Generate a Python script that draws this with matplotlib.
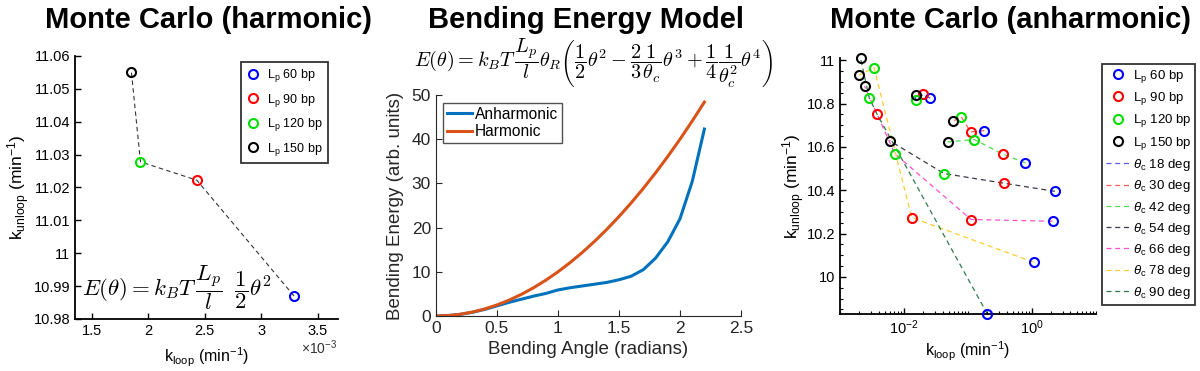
import numpy as np
import matplotlib
matplotlib.use("Agg")
import matplotlib.pyplot as plt
from matplotlib.ticker import FuncFormatter, FixedLocator

plt.rcParams['font.family'] = ['Liberation Sans', 'DejaVu Sans']
plt.rcParams['mathtext.fontset'] = 'custom'
plt.rcParams['mathtext.rm'] = 'Liberation Sans'
plt.rcParams['mathtext.it'] = 'Liberation Sans:italic'
plt.rcParams['xtick.direction'] = 'in'
plt.rcParams['ytick.direction'] = 'in'

# ---- data: harmonic Monte Carlo (order Lp 60, 90, 120, 150) ----
lp_labels = ['60', '90', '120', '150']
lp_colors = ['#0000ff', '#ff0000', '#00e000', '#000000']
harm_kloop = [3.29e-3, 2.43e-3, 1.93e-3, 1.85e-3]
harm_kunloop = [10.987, 11.0222, 11.0278, 11.055]

# ---- data: bending energy model ----
angle = [0.0, 0.1, 0.2, 0.3, 0.4, 0.5, 0.6, 0.7, 0.8, 0.9, 1.0, 1.1,
         1.2, 1.3, 1.4, 1.5, 1.6, 1.7, 1.8, 1.9, 2.0, 2.1, 2.2]
energy_anharmonic = [0.0, 0.1, 0.38, 0.85, 1.5, 2.3, 3.1, 3.8, 4.5, 5.1,
                     5.9, 6.4, 6.8, 7.2, 7.6, 8.2, 9.0, 10.5, 13.1, 16.8,
                     22.0, 30.4, 42.3]
energy_harmonic = [0.0, 0.1, 0.4, 0.9, 1.6, 2.5, 3.6, 4.9, 6.4, 8.1, 10.0,
                   12.1, 14.4, 16.9, 19.6, 22.5, 25.6, 28.9, 32.4, 36.1,
                   40.0, 44.1, 48.4]

# ---- data: anharmonic Monte Carlo, rows = Lp, columns = theta_c ----
theta_c = [18, 30, 42, 54, 66, 78, 90]
tc_colors = ['#5a5aff', '#ff5a5a', '#50dc50', '#3a3a48', '#ff4fd0',
             '#ffcc33', '#2f7a4a']
anh_kloop = [
    [0.0258, 0.181, 0.792, 2.28, 2.10, 1.06, 0.201],
    [0.0201, 0.110, 0.354, 0.371, 0.112, 0.0132, 0.00378],
    [0.0152, 0.078, 0.125, 0.0423, 0.0072, 0.0034, 0.00287],
    [0.0152, 0.0585, 0.048, 0.0060, 0.00242, 0.0020, 0.0021],
]
anh_kunloop = [
    [10.825, 10.675, 10.526, 10.395, 10.257, 10.068, 9.829],
    [10.842, 10.669, 10.566, 10.432, 10.265, 10.274, 10.752],
    [10.818, 10.740, 10.634, 10.477, 10.568, 10.966, 10.825],
    [10.838, 10.718, 10.623, 10.628, 10.880, 10.931, 11.008],
]

fig = plt.figure(figsize=(12, 3.71), dpi=100)

fig.text(0.174, 0.946, 'Monte Carlo (harmonic)', ha='center', va='center',
         fontsize=21, fontweight='bold')
fig.text(0.488, 0.946, 'Bending Energy Model', ha='center', va='center',
         fontsize=21, fontweight='bold')
fig.text(0.8425, 0.946, 'Monte Carlo (anharmonic)', ha='center', va='center',
         fontsize=21, fontweight='bold')

g = lambda v, p: '%g' % v
klabel_loop = 'k$_\\mathregular{loop}$ (min$^\\mathregular{-1}$)'
klabel_unloop = 'k$_\\mathregular{unloop}$ (min$^\\mathregular{-1}$)'

# ---------------- panel 1 ----------------
ax1 = fig.add_axes([0.0625, 0.1402, 0.2192, 0.7089])
ax1.plot(harm_kloop, harm_kunloop, '--', color='#333333', lw=0.8,
         dashes=(4, 3), zorder=1)
for i in range(4):
    ax1.plot(harm_kloop[i], harm_kunloop[i], 'o', mfc='none',
             mec=lp_colors[i], mew=1.5, ms=6.5, zorder=3,
             label='L$_\\mathregular{p}$ ' + lp_labels[i] + ' bp')
ax1.set_xlim(1.35e-3, 3.68e-3)
ax1.set_ylim(10.98, 11.06)
ax1.set_xticks([1.5e-3, 2e-3, 2.5e-3, 3e-3, 3.5e-3])
ax1.xaxis.set_major_formatter(FuncFormatter(lambda v, p: '%g' % round(v * 1e3, 3)))
ax1.set_yticks(np.arange(10.98, 11.0601, 0.01))
ax1.yaxis.set_major_formatter(FuncFormatter(lambda v, p: '%g' % round(v, 2)))
ax1.tick_params(labelsize=10.5, length=4, width=1)
for s in ['top', 'right']:
    ax1.spines[s].set_visible(False)
for s in ['left', 'bottom']:
    ax1.spines[s].set_linewidth(1.3)
ax1.set_xlabel(klabel_loop, fontsize=11.5)
ax1.set_ylabel(klabel_unloop, fontsize=12.5)
ax1.yaxis.set_label_coords(-0.165, 0.5)
ax1.xaxis.set_label_coords(0.5, -0.1)
ax1.text(0.86, -0.11, '$\\times$10$^\\mathregular{-3}$', transform=ax1.transAxes,
         fontsize=10, ha='left', va='center', color='#333333')
ax1.text(0.027, 0.12,
         r'$E(\theta) = k_BT\,\dfrac{L_p}{l}\;\;\dfrac{1}{2}\theta^2$',
         transform=ax1.transAxes, fontsize=16.5, ha='left', va='center',
         math_fontfamily='cm')
leg1 = ax1.legend(loc='upper left', bbox_to_anchor=(0.631, 0.977),
                  borderaxespad=0, fontsize=9, frameon=True, fancybox=False,
                  edgecolor='black', handlelength=1.2, handletextpad=0.5,
                  labelspacing=0.6)
leg1.get_frame().set_linewidth(1.3)

# ---------------- panel 2 ----------------
ax2 = fig.add_axes([0.3633, 0.1482, 0.2542, 0.5957])
ax2.plot(angle, energy_anharmonic, color='#0072BD', lw=2.2, label='Anharmonic')
ax2.plot(angle, energy_harmonic, color='#D95319', lw=2.2, label='Harmonic')
ax2.set_xlim(0, 2.5)
ax2.set_ylim(0, 50)
ax2.set_xticks([0, 0.5, 1, 1.5, 2, 2.5])
ax2.xaxis.set_major_formatter(FuncFormatter(g))
ax2.set_yticks([0, 10, 20, 30, 40, 50])
ax2.tick_params(labelsize=12.5, length=4, width=0.8, colors='#262626')
for s in ['top', 'right']:
    ax2.spines[s].set_visible(False)
for s in ['left', 'bottom']:
    ax2.spines[s].set_color('#262626')
ax2.set_xlabel('Bending Angle (radians)', fontsize=13.5, color='#262626')
ax2.set_ylabel('Bending Energy (arb. units)', fontsize=13.5, color='#262626')
ax2.yaxis.set_label_coords(-0.105, 0.5)
leg2 = ax2.legend(loc='upper left', bbox_to_anchor=(0.023, 0.964),
                  borderaxespad=0, fontsize=11.2, fancybox=False,
                  edgecolor='#262626', handlelength=1.6, handletextpad=0.2,
                  labelspacing=0.15, borderpad=0.25)
fig.text(0.4946, 0.83,
         r'$E(\theta) = k_BT\,\dfrac{L_p}{l}\theta_R\left(\dfrac{1}{2}\theta^2'
         r' - \dfrac{2}{3}\dfrac{1}{\theta_c}\theta^3 + \dfrac{1}{4}'
         r'\dfrac{1}{\theta_c^2}\theta^4\right)$',
         fontsize=14.6, ha='center', va='center', math_fontfamily='cm')

# ---------------- panel 3 ----------------
ax3 = fig.add_axes([0.7, 0.1536, 0.2133, 0.69])
ax3.set_xscale('log')
line_handles = []
for j in range(len(theta_c)):
    xs = [anh_kloop[i][j] for i in range(4)]
    ys = [anh_kunloop[i][j] for i in range(4)]
    h, = ax3.plot(xs, ys, '--', color=tc_colors[j], lw=0.9, dashes=(4, 3),
                  zorder=1,
                  label='$\\theta_\\mathregular{c}$ %d deg' % theta_c[j])
    line_handles.append(h)
marker_handles = []
for i in range(4):
    h, = ax3.plot(anh_kloop[i], anh_kunloop[i], 'o', mfc='none',
                  mec=lp_colors[i], mew=1.5, ms=6.5, zorder=3, clip_on=False,
                  label='L$_\\mathregular{p}$ ' + lp_labels[i] + ' bp')
    marker_handles.append(h)
ax3.set_xlim(1e-3, 10)
ax3.set_ylim(9.829, 11.01)
ax3.set_xticks([1e-2, 1])
ax3.set_xticklabels(['10$^\\mathregular{-2}$', '10$^\\mathregular{0}$'])
minor = [m * 10.0 ** e for e in range(-3, 1) for m in range(1, 10)] + [10.0]
ax3.xaxis.set_minor_locator(FixedLocator(minor))
ax3.xaxis.set_minor_formatter(FuncFormatter(lambda v, p: ''))
ax3.set_yticks([10, 10.2, 10.4, 10.6, 10.8, 11])
ax3.yaxis.set_major_formatter(FuncFormatter(lambda v, p: '%g' % round(v, 1)))
ax3.yaxis.set_minor_locator(FixedLocator(np.arange(9.85, 11.01, 0.05)))
ax3.tick_params(which='major', labelsize=10.5, length=4, width=1)
ax3.tick_params(which='minor', length=2, width=0.8)
for s in ['top', 'right']:
    ax3.spines[s].set_visible(False)
for s in ['left', 'bottom']:
    ax3.spines[s].set_linewidth(1.3)
ax3.set_xlabel(klabel_loop, fontsize=11.5)
ax3.set_ylabel(klabel_unloop, fontsize=12.5)
ax3.yaxis.set_label_coords(-0.13, 0.5)
ax3.xaxis.set_label_coords(0.5, -0.1)
leg3 = ax3.legend(handles=marker_handles + line_handles, loc='upper left',
                  bbox_to_anchor=(1.023, 0.977), borderaxespad=0, fontsize=9.5,
                  fancybox=False, edgecolor='black', handlelength=1.9,
                  handletextpad=0.15, labelspacing=0.4, borderpad=0.3)
leg3.get_frame().set_linewidth(1.3)

fig.savefig('out.png', dpi=100)
